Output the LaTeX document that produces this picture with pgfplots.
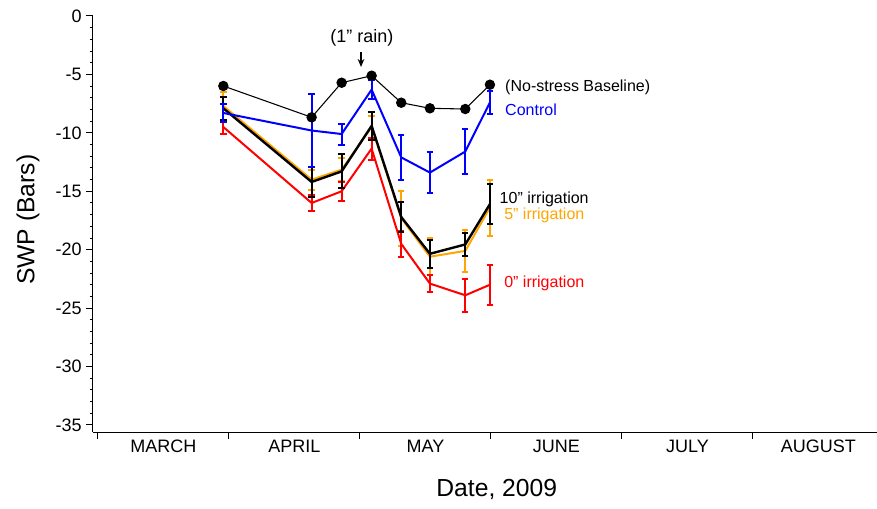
\documentclass[border=0pt]{standalone}
\usepackage{fontspec}
\setmainfont{Liberation Sans}
\usepackage{pgfplots}
\pgfplotsset{compat=1.18}
\usepackage{pgfplotstable}
\usetikzlibrary{arrows.meta}
\definecolor{myorange}{RGB}{255,165,0}

% x in months after 1 March (0 = March, 1 = April, ...)
\pgfplotstableread{
x y
0.957 -5.99
1.631 -8.67
1.860 -5.71
2.089 -5.11
2.315 -7.42
2.534 -7.90
2.804 -7.96
2.992 -5.88
}\base

\pgfplotstableread{
x y e
0.957 -8.3 0.8
1.631 -9.8 3.1
1.860 -10.1 0.9
2.089 -6.3 0.8
2.315 -12.1 1.9
2.534 -13.4 1.75
2.804 -11.6 1.9
2.992 -7.4 1.0
}\ctrl

\pgfplotstableread{
x y e
0.957 -7.9 1.0
1.631 -14.2 1.3
1.860 -13.3 1.45
2.089 -9.4 1.2
2.315 -17.2 1.25
2.534 -20.35 1.2
2.804 -19.55 1.0
2.992 -16.1 1.7
}\tenin

\pgfplotstableread{
x y e
0.957 -7.7 1.2
1.631 -14.0 0.85
1.860 -13.15 1.0
2.089 -9.5 0.9
2.315 -17.3 2.35
2.534 -20.6 1.6
2.804 -20.1 1.8
2.992 -16.4 2.4
}\fivein

\pgfplotstableread{
x y e
0.957 -9.5 0.6
1.631 -16.0 0.7
1.860 -15.0 0.8
2.089 -11.35 0.95
2.315 -19.5 1.1
2.534 -22.9 0.75
2.804 -23.9 1.4
2.992 -23.0 1.7
}\zeroin

\begin{document}
\begin{tikzpicture}
\path[use as bounding box] (0,0) rectangle (657.75pt,381pt);
\begin{axis}[
  at={(69.75pt,57pt)}, anchor=south west,
  scale only axis, width=588pt, height=312pt,
  xmin=-0.038, xmax=5.947, ymin=-35.6, ymax=0,
  clip=false,
  axis lines*=left,
  axis line style={line width=0.75pt},
  tick align=outside,
  tick style={line width=0.75pt, black},
  major tick length=5pt, minor tick length=2.5pt,
  /pgf/number format/assume math mode=true,
  tick label style={font=\fontsize{13.5}{15}\selectfont},
  xtick={0,1,2,3,4,5}, xticklabels={},
  extra x ticks={0.5,1.5,2.5,3.5,4.5,5.5},
  extra x tick labels={MARCH,APRIL,MAY,JUNE,JULY,AUGUST},
  extra x tick style={major tick length=0pt, tick label style={yshift=-2.5pt}},
  ytick={-35,-30,-25,-20,-15,-10,-5,0},
  minor y tick num=4,
  xlabel={Date, 2009},
  ylabel={SWP (Bars)},
  xlabel style={at={(axis description cs:0.515,-0.139)}, anchor=center, font=\fontsize{18.5}{20}\selectfont},
  ylabel style={at={(axis description cs:-0.083,0.51)}, anchor=center, font=\fontsize{18.5}{20}\selectfont},
]
\addplot[myorange, line width=1.5pt, mark=none,
  error bars/.cd, y dir=both, y explicit, error mark=|,
  error bar style={line width=1.5pt, myorange},
  error mark options={myorange, line width=1.5pt, mark size=2.4pt}]
  table[x=x, y=y, y error=e]{\fivein};
\addplot[red, line width=1.5pt, mark=none,
  error bars/.cd, y dir=both, y explicit, error mark=|,
  error bar style={line width=1.5pt, red},
  error mark options={red, line width=1.5pt, mark size=2.4pt}]
  table[x=x, y=y, y error=e]{\zeroin};
\addplot[black, line width=1.8pt, mark=none,
  error bars/.cd, y dir=both, y explicit, error mark=|,
  error bar style={line width=1.5pt, black},
  error mark options={black, line width=1.5pt, mark size=2.4pt}]
  table[x=x, y=y, y error=e]{\tenin};
\addplot[blue, line width=1.5pt, mark=none,
  error bars/.cd, y dir=both, y explicit, error mark=|,
  error bar style={line width=1.5pt, blue},
  error mark options={blue, line width=1.5pt, mark size=2.4pt}]
  table[x=x, y=y, y error=e]{\ctrl};
\addplot[black, line width=0.8pt, mark=*, mark size=3.5pt, mark options={fill=black}]
  table[x=x, y=y]{\base};

\node[font=\fontsize{13.5}{15}\selectfont] at (axis cs:2.015,-1.88) {(1” rain)};
\draw[-{Stealth[length=6pt,width=5pt]}, line width=0.9pt] (axis cs:2.008,-3.12) -- (axis cs:2.008,-4.36);
\node[anchor=west, font=\fontsize{12}{14}\selectfont, inner sep=0pt] at (axis cs:3.107,-6.08) {(No-stress Baseline)};
\node[anchor=west, font=\fontsize{12}{14}\selectfont, inner sep=0pt, text=blue] at (axis cs:3.107,-8.04) {Control};
\node[anchor=west, font=\fontsize{12}{14}\selectfont, inner sep=0pt] at (axis cs:3.065,-15.66) {10” irrigation};
\node[anchor=west, font=\fontsize{12}{14}\selectfont, inner sep=0pt, text=myorange] at (axis cs:3.10,-17.1) {5” irrigation};
\node[anchor=west, font=\fontsize{12}{14}\selectfont, inner sep=0pt, text=red] at (axis cs:3.10,-22.9) {0” irrigation};
\end{axis}
\end{tikzpicture}
\end{document}
